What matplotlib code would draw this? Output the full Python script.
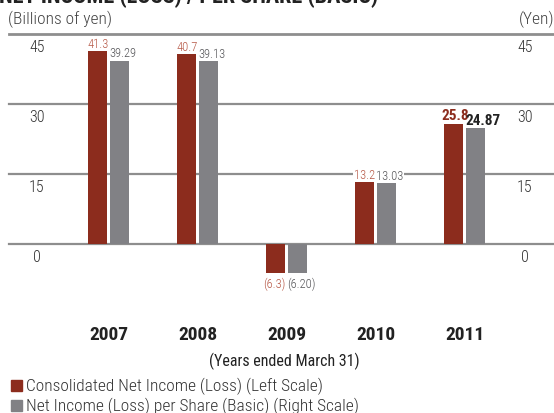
import matplotlib
matplotlib.use("Agg")
import matplotlib.pyplot as plt
from matplotlib.patches import Rectangle
from matplotlib import font_manager

# data (billions of yen / yen)
years = ["2007", "2008", "2009", "2010", "2011"]
net_income = [41.3, 40.7, -6.3, 13.2, 25.8]
per_share = [39.29, 39.13, -6.20, 13.03, 24.87]
income_labels = ["41.3", "40.7", "(6.3)", "13.2", "25.8"]
share_labels = ["39.29", "39.13", "(6.20)", "13.03", "24.87"]
y_ticks = [0, 15, 30, 45]

RED = "#8c2c1d"
RED_TXT = "#b65846"
GRAY = "#818185"
GRAY_TXT = "#555558"
LINE = "#8e8e8e"

names = {f.name for f in font_manager.fontManager.ttflist}
wanted = ["Roboto Condensed", "Archivo Narrow", "PT Sans Narrow", "Fira Sans Condensed",
          "Barlow Semi Condensed", "Liberation Sans Narrow"]
FONT = [n for n in wanted if n in names][:1]
plt.rcParams["font.family"] = FONT + ["DejaVu Sans"]
plt.rcParams["font.weight"] = "light"

W, H = 554, 414
fig = plt.figure(figsize=(W / 100, H / 100), dpi=100)


def fx(x):
    return x / W


def fy(y):
    return 1 - y / H


# plot area in pixels: 45 at y=35, 0 at y=245; group pitch 89 px, first centre at 108.5
ppu = 70 / 15
top_px, bot_px = 35, 300
left_px, right_px = 8, 554
ax = fig.add_axes([fx(left_px), fy(bot_px), fx(right_px - left_px), (bot_px - top_px) / H])
ax.set_ylim(-(bot_px - 245) / ppu, 45)
ax.set_xlim((left_px - 108.5) / 89, (right_px - 108.5) / 89)
ax.axis("off")

for v in y_ticks:
    lw = 2.0 if v == 45 else 1.6
    ax.axhline(v, color=LINE, lw=lw, xmin=(9 - left_px) / (right_px - left_px), xmax=1,
               clip_on=False, zorder=1)

bw = 19 / 89
off = 11 / 89
x = list(range(len(years)))
ax.bar([i - off for i in x], net_income, width=bw, color=RED, zorder=3)
ax.bar([i + off for i in x], per_share, width=bw, color=GRAY, zorder=3)

# value labels, left aligned on each bar
for i in x:
    bold = i == len(years) - 1
    fs = 11 if bold else 9
    wt = "bold" if bold else "light"
    for val, lab, dx, col in [(net_income[i], income_labels[i], -off, RED_TXT if not bold else RED),
                              (per_share[i], share_labels[i], off, GRAY_TXT if not bold else "#222222")]:
        shift = -0.03 if dx < 0 and (bold or val < 0) else -0.01
        if val >= 0:
            ax.text(i + dx - bw / 2 + shift, val + 0.3, lab, ha="left", va="bottom",
                    fontsize=fs, fontweight=wt, color=col, zorder=4,
                    bbox=dict(facecolor="white", edgecolor="none", pad=0.6) if i == 3 else None)
        else:
            ax.text(i + dx - bw / 2 + shift, val - 0.8, lab, ha="left", va="top",
                    fontsize=fs, fontweight=wt, color=col, zorder=4)

# axis numbers on both sides, sitting under each rule
for v in y_ticks:
    ypx = 245 - v * ppu + 13
    fig.text(fx(37), fy(ypx), str(v), ha="center", va="center", fontsize=11.5, color="#333333")
    fig.text(fx(525), fy(ypx), str(v), ha="center", va="center", fontsize=11.5, color="#333333")

fig.text(fx(-1), fy(-3), "NET INCOME (LOSS) / PER SHARE (BASIC)", ha="left", va="center",
         fontsize=16, fontweight="bold", color="#222222")
fig.text(fx(8), fy(19), "(Billions of yen)", ha="left", va="center", fontsize=12.5, color="#444444")
fig.text(fx(555), fy(19), "(Yen)", ha="right", va="center", fontsize=12.5, color="#444444")

for i, yr in enumerate(years):
    fig.text(fx(108.5 + 89 * i), fy(335), yr, ha="center", va="center", fontsize=14,
             fontweight="bold", color="#222222")
fig.text(fx(284), fy(361), "(Years ended March 31)", ha="center", va="center", fontsize=11.5,
         fontweight="normal", color="#222222")

# legend
legend_items = [("Consolidated Net Income (Loss) (Left Scale)", RED),
                ("Net Income (Loss) per Share (Basic) (Right Scale)", GRAY)]
for k, (txt, col) in enumerate(legend_items):
    yc = 386 + 20 * k
    fig.patches.append(Rectangle((fx(11), fy(yc + 6)), fx(11), 11 / H, color=col,
                                 transform=fig.transFigure, figure=fig))
    fig.text(fx(26), fy(yc), txt, ha="left", va="center", fontsize=12.5, color="#333333")

fig.savefig("out.png", dpi=100)
